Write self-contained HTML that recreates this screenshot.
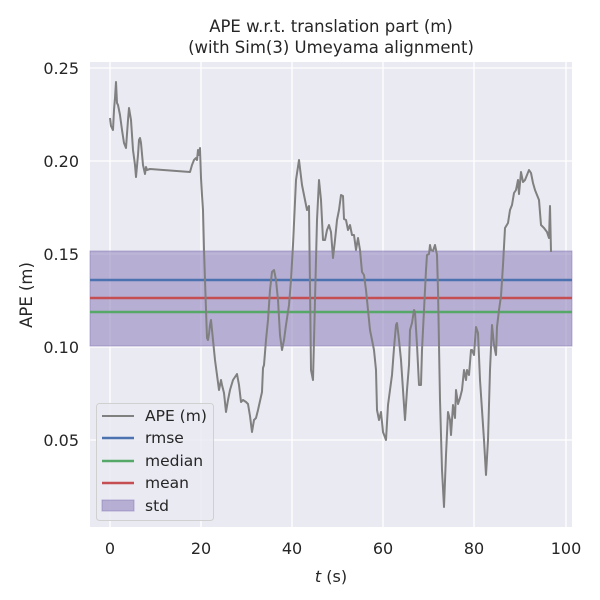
<!DOCTYPE html>
<html><head><style>body{margin:0;background:#fff}svg{display:block;font-family:"DejaVu Sans","Liberation Sans",sans-serif}</style></head><body>
<svg width="600" height="600" viewBox="0 0 600 600">
<rect width="600" height="600" fill="#fff"/>
<rect x="90" y="62" width="482" height="465" fill="#eaeaf2"/>
<g stroke="#fff" stroke-width="1.3">
<line x1="110" y1="62" x2="110" y2="527"/><line x1="201" y1="62" x2="201" y2="527"/><line x1="292" y1="62" x2="292" y2="527"/><line x1="383" y1="62" x2="383" y2="527"/><line x1="474" y1="62" x2="474" y2="527"/><line x1="566" y1="62" x2="566" y2="527"/>
<line x1="90" y1="68" x2="572" y2="68"/><line x1="90" y1="161" x2="572" y2="161"/><line x1="90" y1="254" x2="572" y2="254"/><line x1="90" y1="347" x2="572" y2="347"/><line x1="90" y1="440" x2="572" y2="440"/>
</g>
<rect x="90" y="251" width="482" height="95" fill="#8172b3" fill-opacity="0.5" stroke="#8172b3" stroke-opacity="0.5"/>
<line x1="90" y1="280" x2="572" y2="280" stroke="#4c72b0" stroke-width="2.5"/>
<line x1="90" y1="298" x2="572" y2="298" stroke="#c44e52" stroke-width="2.5"/>
<line x1="90" y1="312" x2="572" y2="312" stroke="#55a868" stroke-width="2.5"/>
<polyline fill="none" stroke="#808080" stroke-width="2" stroke-linejoin="round" points="110,118 111,126 113,130 114,110 115,98 116,82 117,103 118,105 120,115 122,130 124,143 126,148 128,120 129,108 131,120 133,150 135,165 136,177 138,155 139,140 140,138 141,143 143,165 145,174 146,167 147,170 150,169 190,172 192,165 194,160 196,158 197,160 198,150 199,155 200,148 201,178 202,195 203,210 204,250 205,280 206,310 207,338 208,340 209,334 210,325 211,320 213,340 215,360 217,375 219,390 221,380 222,385 224,393 226,412 228,400 230,390 233,380 237,374 239,385 241,402 243,400 246,402 248,404 250,416 252,432 254,420 256,418 258,410 262,392 263,368 264,365 266,340 268,320 270,290 272,272 274,270 276,280 278,300 280,335 282,350 284,340 286,325 289,305 291,280 293,245 296,180 299,160 302,185 305,200 307,210 309,206 311,370 313,380 315,300 317,220 319,180 321,200 323,240 325,240 327,230 329,225 331,232 333,258 335,240 337,220 339,210 341,195 343,196 344,219 346,220 348,230 350,225 352,235 354,235 356,250 358,238 360,250 362,272 364,275 366,290 368,310 370,330 372,340 374,350 376,370 377,410 379,420 381,412 383,432 386,440 388,405 390,390 392,375 394,348 396,325 397,323 399,340 401,360 403,390 405,420 407,390 409,365 410,330 412,323 414,310 415,312 417,345 419,385 421,385 422,350 424,310 426,270 427,255 429,254 430,245 431,250 433,251 435,245 437,255 438,290 440,400 442,470 444,507 446,455 448,412 450,420 451,435 453,405 455,418 456,390 458,404 460,398 462,390 464,370 466,380 467,370 469,375 471,350 472,350 474,355 476,327 478,333 480,380 482,410 484,440 486,475 488,440 490,370 492,325 494,345 496,355 497,327 499,310 501,296 503,265 505,228 508,223 510,210 512,205 514,193 516,190 518,180 519,194 521,172 523,182 525,180 527,175 529,170 531,173 533,183 535,190 537,195 539,200 541,225 544,228 547,232 549,238 550,206 551,252"/>
<g font-size="16.5" fill="#262626" text-anchor="middle">
<text x="331" y="32">APE w.r.t. translation part (m)</text>
<text x="331" y="53">(with Sim(3) Umeyama alignment)</text>
</g>
<g font-size="16" fill="#262626" text-anchor="middle">
<text x="110" y="554">0</text><text x="201" y="554">20</text><text x="292" y="554">40</text><text x="383" y="554">60</text><text x="474" y="554">80</text><text x="566" y="554">100</text>
<text x="331" y="582"><tspan font-style="italic">t</tspan> (s)</text>
</g>
<g font-size="16" fill="#262626" text-anchor="end">
<text x="79" y="74">0.25</text><text x="79" y="167">0.20</text><text x="79" y="260">0.15</text><text x="79" y="353">0.10</text><text x="79" y="446">0.05</text>
</g>
<text transform="translate(32,295) rotate(-90)" font-size="16.5" fill="#262626" text-anchor="middle">APE (m)</text>
<rect x="96.5" y="403.5" width="117" height="117" rx="3" fill="#eaeaf2" fill-opacity="0.8" stroke="#d0d0d0"/>
<g font-size="15.5" fill="#262626">
<line x1="102" y1="416" x2="134" y2="416" stroke="#808080" stroke-width="2"/><text x="145" y="421">APE (m)</text>
<line x1="102" y1="438" x2="134" y2="438" stroke="#4c72b0" stroke-width="2.5"/><text x="145" y="443">rmse</text>
<line x1="102" y1="461" x2="134" y2="461" stroke="#55a868" stroke-width="2.5"/><text x="145" y="466">median</text>
<line x1="102" y1="483" x2="134" y2="483" stroke="#c44e52" stroke-width="2.5"/><text x="145" y="488">mean</text>
<rect x="102" y="500" width="32" height="11" fill="#8172b3" fill-opacity="0.5" stroke="#8172b3" stroke-opacity="0.5"/><text x="145" y="511">std</text>
</g>
</svg>
</body></html>
